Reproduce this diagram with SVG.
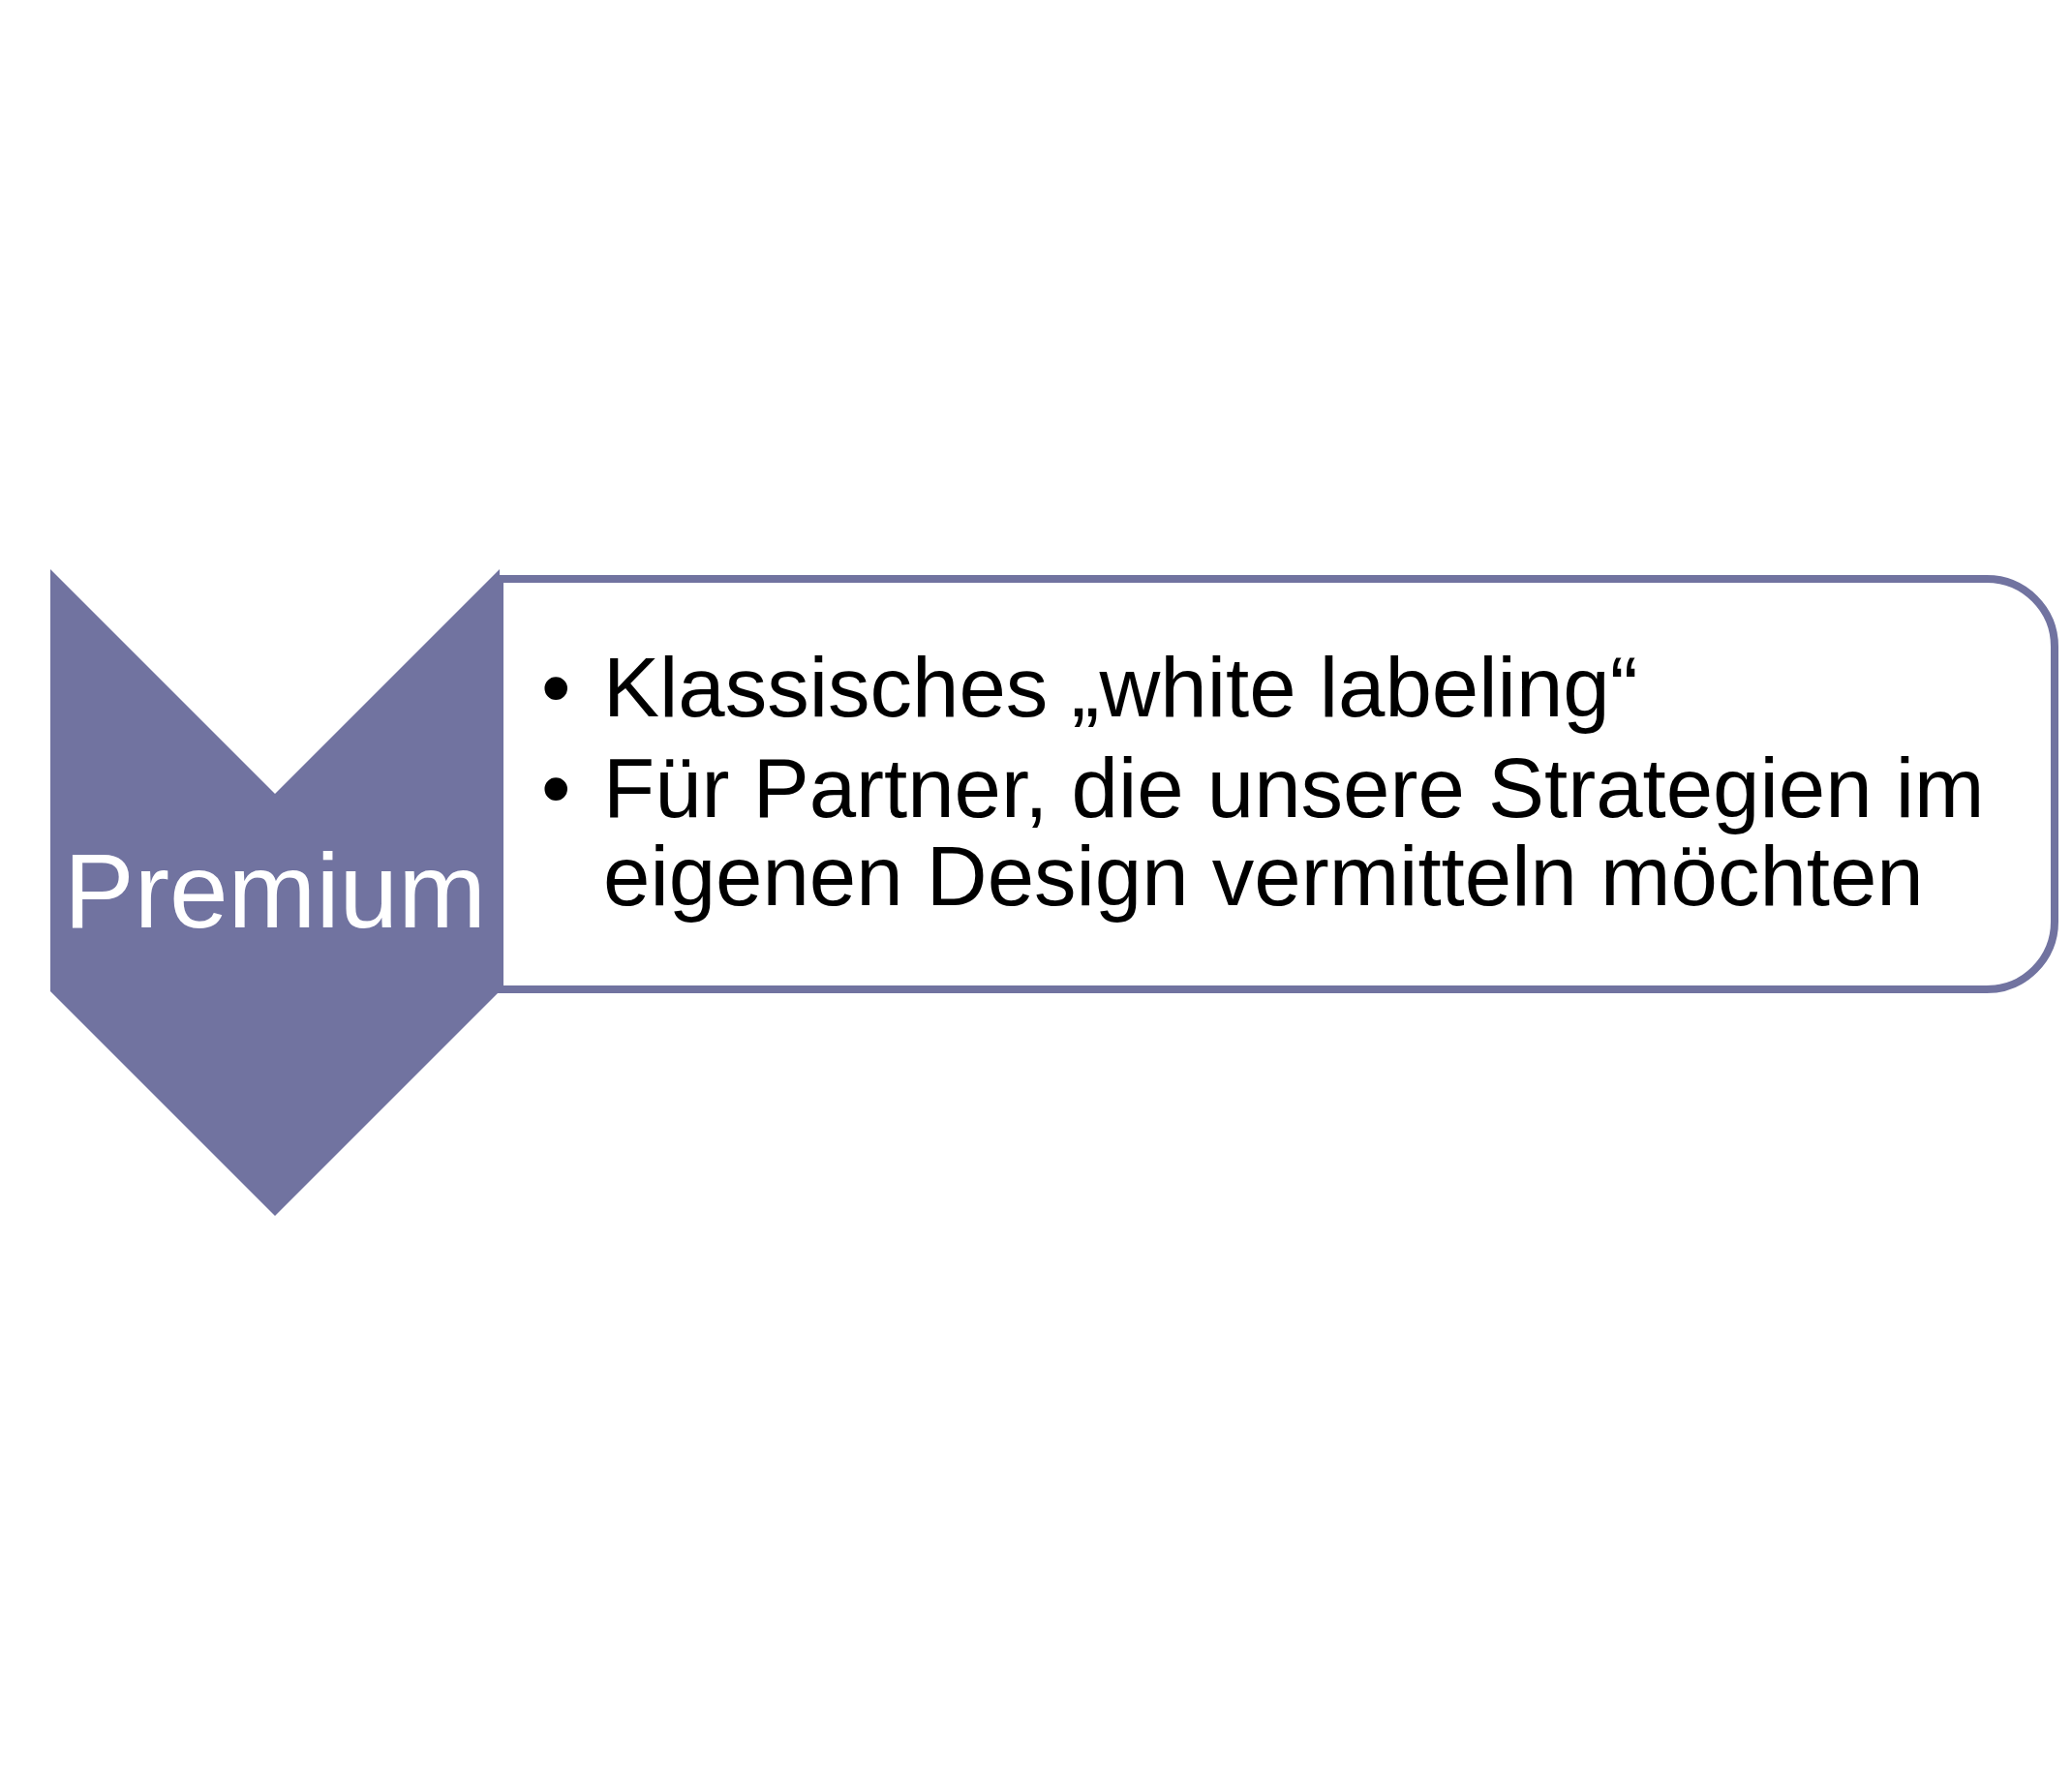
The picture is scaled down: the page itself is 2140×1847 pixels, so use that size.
<svg xmlns="http://www.w3.org/2000/svg" width="2140" height="1847" viewBox="0 0 2140 1847">
<style>
.bg{fill:#ffffff}
.chev{fill:#7173A0}
.box{fill:#ffffff;stroke:#7173A0;stroke-width:8}
.lbl{font-family:"Liberation Sans",Arial,sans-serif;font-size:109px;fill:#ffffff}
.txt{font-family:"Liberation Sans",Arial,sans-serif;font-size:87px;fill:#000000}
</style>
<rect class="bg" x="0" y="0" width="2140" height="1847"/>
<g id="details">
<path class="box" d="M516,598 H2052 A70,70 0 0 1 2122,668 V952 A70,70 0 0 1 2052,1022 H516 Z"/>
<text class="txt" x="559" y="740">•</text>
<text class="txt" x="623" y="740">Klassisches „white labeling“</text>
<text class="txt" x="559" y="844">•</text>
<text class="txt" x="623" y="844">Für Partner, die unsere Strategien im</text>
<text class="txt" x="623" y="935">eigenen Design vermitteln möchten</text>
</g>
<g id="premium">
<polygon class="chev" points="52,588 284,820 516,588 516,1024 284,1256 52,1024"/>
<text class="lbl" x="284" y="958" text-anchor="middle">Premium</text>
</g>
<g id="connectors"/>
</svg>
